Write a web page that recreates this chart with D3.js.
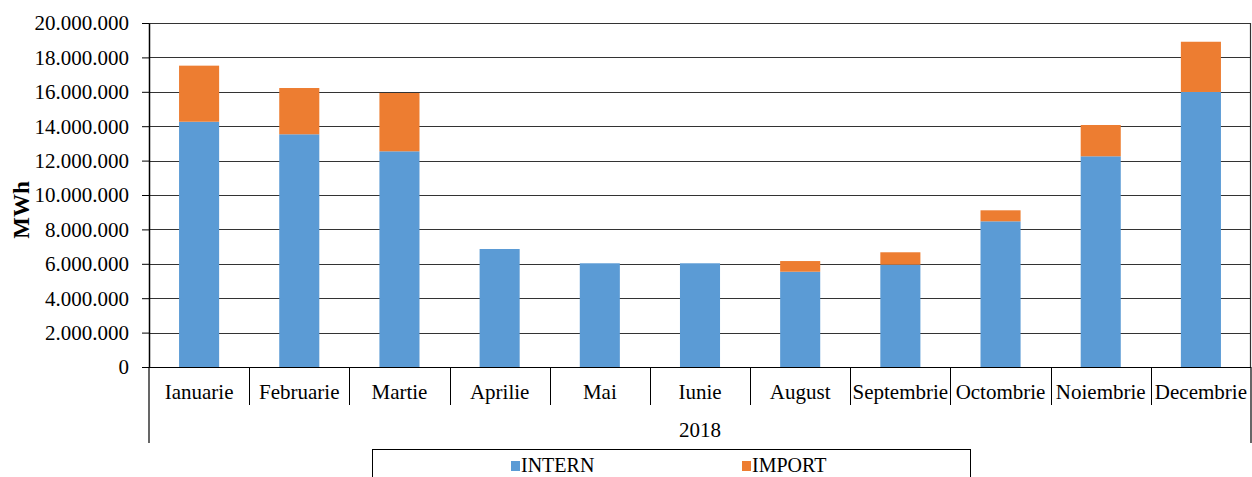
<!DOCTYPE html>
<html>
<head>
<meta charset="utf-8">
<script src="https://cdn.jsdelivr.net/npm/d3@7"></script>
<style>
  body { margin: 0; background: #fff; }
</style>
</head>
<body>
<script>
var months = ["Ianuarie", "Februarie", "Martie", "Aprilie", "Mai", "Iunie",
  "August", "Septembrie", "Octombrie", "Noiembrie", "Decembrie"];
var intern = [14260000, 13530000, 12540000, 6860000, 6030000, 6030000,
  5540000, 5950000, 8470000, 12250000, 15990000];
var importVals = [3260000, 2690000, 3390000, 0, 0, 0,
  620000, 720000, 640000, 1820000, 2920000];
var yTicks = [0, 2000000, 4000000, 6000000, 8000000, 10000000,
  12000000, 14000000, 16000000, 18000000, 20000000];
var seriesNames = ["INTERN", "IMPORT"];
var colors = ["#5B9BD5", "#ED7D31"];
var yearLabel = "2018";

var serif = "'Liberation Serif', 'Times New Roman', serif";

d3.select("body").append("svg")
  .attr("width", 1252)
  .attr("height", 477);

var svg = d3.select("svg");

var margin = {top: 23, right: 1, bottom: 110, left: 149};
var width = 1252 - margin.left - margin.right;
var height = 477 - margin.top - margin.bottom;

var g = svg.append("g")
  .attr("transform", "translate(" + margin.left + "," + margin.top + ")");

var xScale = d3.scaleBand().domain(months).range([0, width]).paddingInner(0.6).paddingOuter(0.3);
var xCat = d3.scaleBand().domain(months).range([0, width]);
var yScale = d3.scaleLinear().domain([0, 20000000]).range([height, 0]);

var fmt = function(d) { return d3.format(",")(d).replace(/,/g, "."); };

// gridlines
g.selectAll(".grid")
  .data(yTicks)
  .enter().append("line")
  .attr("x1", 0).attr("x2", width)
  .attr("y1", function(d) { return Math.round(yScale(d)) + 0.5; })
  .attr("y2", function(d) { return Math.round(yScale(d)) + 0.5; })
  .attr("stroke", "#333").attr("stroke-width", 1.2);

// stacked bars
var table = months.map(function(m, i) { return {month: m, INTERN: intern[i], IMPORT: importVals[i]}; });
var stack = d3.stack().keys(seriesNames)(table);

g.selectAll(".series")
  .data(stack)
  .enter().append("g")
  .attr("fill", function(d, i) { return colors[i]; })
  .selectAll("rect")
  .data(function(d) { return d; })
  .enter().append("rect")
  .attr("x", function(d) { return xScale(d.data.month); })
  .attr("width", xScale.bandwidth())
  .attr("y", function(d) { return yScale(d[1]); })
  .attr("height", function(d) { return yScale(d[0]) - yScale(d[1]); });

// y axis
var yAxis = g.append("g")
  .call(d3.axisLeft(yScale).tickValues(yTicks).tickFormat(fmt).tickSize(7).tickSizeOuter(0));
yAxis.attr("font-family", null).attr("font-size", null);
yAxis.select(".domain").attr("stroke", "#000").attr("stroke-width", 1.5);
yAxis.selectAll(".tick line").attr("stroke", "#000");
yAxis.selectAll("text")
  .attr("x", -20)
  .attr("dy", "0.33em")
  .attr("fill", "#000");

// category axis with group dividers
var xg = g.append("g").attr("transform", "translate(0," + height + ")");
xg.append("line").attr("x1", 0).attr("x2", width).attr("y1", 0.5).attr("y2", 0.5)
  .attr("stroke", "#000").attr("stroke-width", 1.2);
xg.selectAll(".div")
  .data(months.slice(1))
  .enter().append("line")
  .attr("x1", function(d) { return Math.round(xCat(d)) + 0.5; })
  .attr("x2", function(d) { return Math.round(xCat(d)) + 0.5; })
  .attr("y1", 0).attr("y2", 38)
  .attr("stroke", "#000");
xg.selectAll(".edge")
  .data([0, width])
  .enter().append("line")
  .attr("x1", function(d) { return d; }).attr("x2", function(d) { return d; })
  .attr("y1", 0).attr("y2", 76)
  .attr("stroke", "#000").attr("stroke-width", 1.2);
xg.selectAll(".lab")
  .data(months)
  .enter().append("text")
  .attr("x", function(d) { return xCat(d) + xCat.bandwidth() / 2; })
  .attr("y", 32)
  .attr("text-anchor", "middle")
  .text(function(d) { return d; });
xg.append("text")
  .attr("x", width / 2)
  .attr("y", 70)
  .attr("text-anchor", "middle")
  .text(yearLabel);

// right border
g.append("line")
  .attr("x1", width - 0.5).attr("x2", width - 0.5)
  .attr("y1", 0).attr("y2", height)
  .attr("stroke", "#333").attr("stroke-width", 1.2);

// y title
svg.append("text")
  .attr("transform", "translate(29,210) rotate(-90)")
  .attr("text-anchor", "middle")
  .attr("class", "ytitle")
  .text("MWh");

// legend
var legend = svg.append("g");
legend.append("rect")
  .attr("x", 372.5).attr("y", 449.5).attr("width", 598).attr("height", 40)
  .attr("fill", "none").attr("stroke", "#000");
var legendX = [511, 742];
seriesNames.forEach(function(s, i) {
  legend.append("rect")
    .attr("x", legendX[i]).attr("y", 461).attr("width", 9).attr("height", 10)
    .attr("fill", colors[i]);
  legend.append("text")
    .attr("class", "legtext")
    .attr("x", legendX[i] + 10).attr("y", 472)
    .text(s);
});

svg.selectAll("text")
  .style("font-family", serif)
  .style("font-size", "21px")
  .style("fill", "#000");
svg.selectAll(".legtext").style("font-size", "20px");
svg.select(".ytitle").style("font-size", "23px").style("font-weight", "bold");
</script>
</body>
</html>
